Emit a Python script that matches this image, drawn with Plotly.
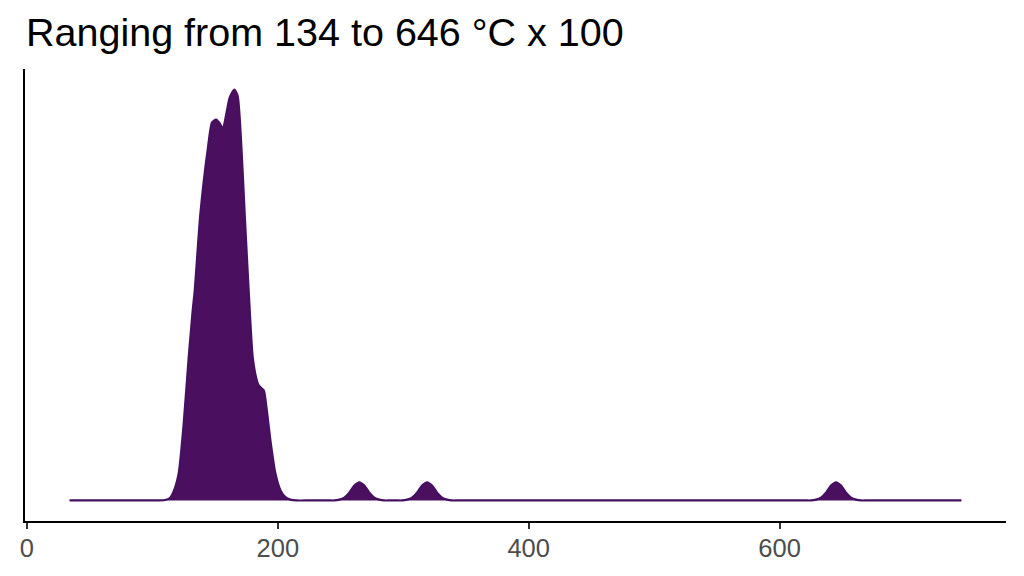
"""
Density of temperature readings (ggplot-style classic theme).
"""

import plotly.graph_objects as go

# ---------------------------------------------------------------------------
# Data (density scaled so the tallest peak is 1)
# ---------------------------------------------------------------------------

temp_x = [
    34, 60, 80, 95, 101, 105, 110, 114, 117, 121, 125, 129, 132.2, 133.8, 138.3,
    144.4, 147.6, 150.8, 153.7, 156.2, 159.0, 161.7, 165.4, 168.0, 171.0,
    173.6, 176.8, 180.0, 182.9, 184.8, 188.8, 190.9, 194.1, 198.1, 202.1,
    206.1, 210, 215, 225, 235, 241, 245,
    249, 253, 257, 261, 265, 269, 273, 277, 281, 285,
    289, 292, 295,
    299, 303, 307, 311, 315, 319, 323, 327, 331, 335, 339,
    343, 350, 400, 500, 600, 615, 621, 625,
    629, 633, 637, 641, 645, 649, 653, 657, 661, 665,
    669, 675, 685, 700, 745,
]

density = [
    0, 0, 0, 0, 0, 0, 0.001, 0.006, 0.022, 0.066, 0.187, 0.349, 0.463, 0.511, 0.698,
    0.860, 0.920, 0.927, 0.918, 0.904, 0.941, 0.981, 1.000, 0.985, 0.860,
    0.698, 0.511, 0.349, 0.297, 0.280, 0.268, 0.228, 0.147, 0.066, 0.025,
    0.008, 0.002, 0, 0, 0, 0, 0,
    0.002, 0.007, 0.019, 0.036, 0.044, 0.036, 0.019, 0.007, 0.002, 0,
    0, 0, 0,
    0, 0.002, 0.007, 0.019, 0.036, 0.044, 0.036, 0.019, 0.007, 0.002, 0,
    0, 0, 0, 0, 0, 0, 0, 0,
    0.002, 0.007, 0.019, 0.036, 0.044, 0.036, 0.019, 0.007, 0.002, 0,
    0, 0, 0, 0, 0,
]

x_ticks = [0, 200, 400, 600]
title_text = "Ranging from 134 to 646 °C x 100"

# ---------------------------------------------------------------------------
# Style
# ---------------------------------------------------------------------------

FONT_FAMILY = "Liberation Sans, Arial, sans-serif"
FILL_COLOUR = "#4a105f"
LINE_COLOUR = "#461060"

fig = go.Figure()

fig.add_trace(go.Scatter(
    x=temp_x,
    y=density,
    mode="lines",
    fill="tozeroy",
    fillcolor=FILL_COLOUR,
    line=dict(color=LINE_COLOUR, width=2.2, shape="spline", smoothing=0.6),
    hoverinfo="skip",
    showlegend=False,
))

fig.update_layout(
    width=1024,
    height=576,
    paper_bgcolor="white",
    plot_bgcolor="white",
    font=dict(family=FONT_FAMILY, color="black"),
    margin=dict(l=25, r=18, t=69, b=55),
    title=dict(
        text=title_text,
        font=dict(size=39.5, color="black", family=FONT_FAMILY),
        x=26 / 1024,
        xref="container",
        xanchor="left",
        y=1 - 32 / 576,
        yref="container",
        yanchor="middle",
    ),
    xaxis=dict(
        range=[-1.5, 780.5],
        tickvals=x_ticks,
        ticktext=[str(v) for v in x_ticks],
        ticks="outside",
        ticklen=6,
        tickwidth=2,
        tickcolor="#333333",
        tickfont=dict(size=25.5, color="#4d4d4d"),
        ticklabelstandoff=-3,
        showline=True,
        linecolor="black",
        linewidth=2,
        showgrid=False,
        zeroline=False,
    ),
    yaxis=dict(
        range=[-0.05, 1.05],
        showticklabels=False,
        ticks="",
        showline=True,
        linecolor="black",
        linewidth=2,
        showgrid=False,
        zeroline=False,
    ),
)

# drop the default body margin so the 1024x576 figure fills the window
fig.write_html(
    "out.html",
    config={"displayModeBar": False},
    post_script="document.body.style.margin='0';",
)
